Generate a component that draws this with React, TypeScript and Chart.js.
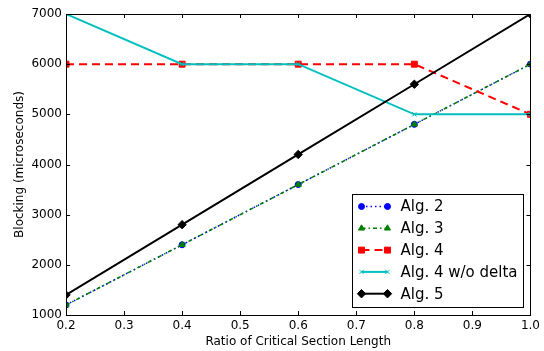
import React, { useEffect, useRef } from "react";
import { Chart, registerables } from "chart.js";
import { drawPoint } from "chart.js/helpers";

Chart.register(...registerables);

const ratios = [0.2, 0.4, 0.6, 0.8, 1.0];
const alg2 = [1200, 2400, 3600, 4800, 6000];
const alg3 = [1200, 2400, 3600, 4800, 6000];
const alg4 = [6000, 6000, 6000, 6000, 5000];
const alg4NoDelta = [7000, 6000, 6000, 5000, 5000];
const alg5 = [1400, 2800, 4200, 5600, 7000];
const seriesNames = ["Alg. 2", "Alg. 3", "Alg. 4", "Alg. 4 w/o delta", "Alg. 5"];

const FONT = "'DejaVu Sans', sans-serif";

const framePlugin = {
  id: "frame",
  afterDatasetsDraw(chart: any) {
    const { ctx, chartArea: a, scales } = chart;
    ctx.save();
    ctx.strokeStyle = "#000";
    ctx.lineWidth = 1;
    const tl = 4;
    ctx.beginPath();
    for (const t of scales.x.ticks) {
      const px = Math.round(scales.x.getPixelForValue(t.value)) + 0.5;
      ctx.moveTo(px, a.bottom);
      ctx.lineTo(px, a.bottom - tl);
      ctx.moveTo(px, a.top);
      ctx.lineTo(px, a.top + tl);
    }
    for (const t of scales.y.ticks) {
      const py = Math.round(scales.y.getPixelForValue(t.value)) + 0.5;
      ctx.moveTo(a.left, py);
      ctx.lineTo(a.left + tl, py);
      ctx.moveTo(a.right, py);
      ctx.lineTo(a.right - tl, py);
    }
    ctx.stroke();
    ctx.strokeRect(Math.round(a.left) + 0.5, Math.round(a.top) + 0.5, Math.round(a.right - a.left), Math.round(a.bottom - a.top));
    ctx.restore();
  },
  afterDraw(chart: any) {
    const { ctx, chartArea: a } = chart;
    const ds = chart.data.datasets;
    ctx.save();
    ctx.font = `15px ${FONT}`;
    let maxW = 0;
    for (const d of ds) maxW = Math.max(maxW, ctx.measureText(d.label).width);
    const padL = 9, sample = 26, gap = 13, padR = 6;
    const rowH = 21.8, padT = 12, padB = 14;
    const w = padL + sample + gap + maxW + padR;
    const h = padT + rowH * (ds.length - 1) + padB;
    const right = a.right - 7;
    const bottom = a.bottom - 8;
    const left = Math.round(right - w) + 0.5;
    const top = Math.round(bottom - h) + 0.5;
    ctx.fillStyle = "#fff";
    ctx.fillRect(left, top, right - left, bottom - top);
    ctx.strokeStyle = "#000";
    ctx.lineWidth = 1;
    ctx.strokeRect(left, top, Math.round(right - left), Math.round(bottom - top));
    ds.forEach((d: any, i: number) => {
      const y = top + padT + i * rowH;
      const x0 = left + padL;
      const x1 = x0 + sample;
      ctx.save();
      ctx.strokeStyle = d.borderColor;
      ctx.lineWidth = d.borderWidth;
      ctx.setLineDash(d.borderDash || []);
      ctx.beginPath();
      ctx.moveTo(x0, y);
      ctx.lineTo(x1, y);
      ctx.stroke();
      ctx.setLineDash([]);
      ctx.fillStyle = d.pointBackgroundColor;
      ctx.strokeStyle = d.pointBorderColor;
      ctx.lineWidth = 1;
      for (const px of [x0, x1]) {
        drawPoint(ctx, { pointStyle: d.pointStyle, radius: d.pointRadius, rotation: 0, borderWidth: 1 } as any, px, y);
      }
      ctx.restore();
      ctx.fillStyle = "#000";
      ctx.textBaseline = "middle";
      ctx.textAlign = "left";
      ctx.fillText(d.label, x1 + gap, y + 1);
    });
    ctx.restore();
  },
};

export default function App() {
  const ref = useRef<HTMLCanvasElement>(null);
  useEffect(() => {
    const mk = (label: string, data: number[], color: string, style: string, radius: number, width: number, dash: number[], order: number) => ({
      label,
      data: ratios.map((x, i) => ({ x, y: data[i] })),
      borderColor: color,
      backgroundColor: color,
      pointBackgroundColor: color,
      pointBorderColor: color,
      pointStyle: style,
      pointRadius: radius,
      pointBorderWidth: 1,
      borderWidth: width,
      borderDash: dash,
      tension: 0,
      fill: false,
      order,
    });
    const chart = new Chart(ref.current!, {
      type: "line",
      data: {
        datasets: [
          mk(seriesNames[0], alg2, "#0000ff", "circle", 3, 1.5, [1.5, 3], 5),
          mk(seriesNames[1], alg3, "#007f00", "triangle", 3.5, 1.5, [4, 3, 1.5, 3], 4),
          mk(seriesNames[2], alg4, "#ff0000", "rect", 4.2, 2, [8, 5], 3),
          mk(seriesNames[3], alg4NoDelta, "#00bfbf", "crossRot", 3, 2, [], 2),
          mk(seriesNames[4], alg5, "#000000", "rectRot", 4.2, 2, [], 1),
        ] as any,
      },
      options: {
        animation: false,
        responsive: false,
        maintainAspectRatio: false,
        layout: { padding: { top: 14, right: 13, left: 0, bottom: 0 } },
        plugins: { legend: { display: false }, tooltip: { enabled: false } },
        scales: {
          x: {
            type: "linear",
            min: 0.2,
            max: 1.0,
            grid: { display: false, drawTicks: false },
            border: { display: false },
            ticks: {
              stepSize: 0.1,
              padding: 4,
              color: "#000",
              font: { family: FONT, size: 12 },
              maxRotation: 0,
              callback: (v: any) => Number(v).toFixed(1),
            },
            title: { display: true, text: "Ratio of Critical Section Length", color: "#000", font: { family: FONT, size: 12 }, padding: { top: 1, bottom: 2 } },
            afterFit: (s: any) => { s.height = 36; },
          },
          y: {
            min: 1000,
            max: 7000,
            grid: { display: false, drawTicks: false },
            border: { display: false },
            ticks: {
              stepSize: 1000,
              padding: 4,
              color: "#000",
              font: { family: FONT, size: 12 },
              callback: (v: any) => String(v),
            },
            title: { display: true, text: "Blocking (microseconds)", color: "#000", font: { family: FONT, size: 12 }, padding: { top: 13, bottom: 0 } },
            afterFit: (s: any) => { s.width = 66; },
          },
        },
      },
      plugins: [framePlugin],
    });
    return () => chart.destroy();
  }, []);
  return (
    <div style={{ position: "fixed", left: 0, top: 0, width: 544, height: 351, background: "#fff" }}>
      <canvas ref={ref} width={544} height={351} style={{ width: 544, height: 351 }} />
    </div>
  );
}
